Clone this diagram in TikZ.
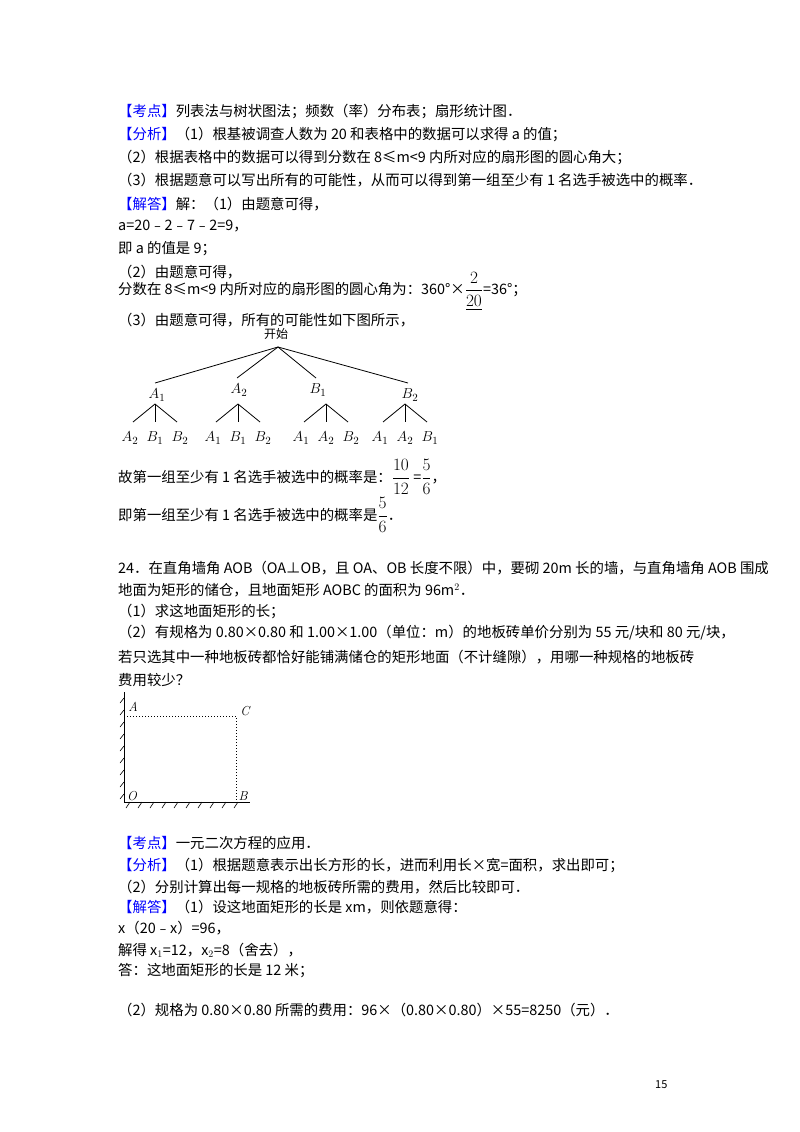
\documentclass[tikz,border=0pt]{standalone}
\usepackage{amsmath}
\usepackage{fontspec}
\setmainfont{Noto Sans CJK SC}
\newfontfamily\lm{Latin Modern Roman}
\begin{document}
\begin{tikzpicture}[x=1pt,y=-1pt,
 t/.style={anchor=west,inner sep=0pt,font=\fontsize{14.4}{15}\selectfont},
 lb/.style={inner sep=0pt,font=\lm\itshape\fontsize{15}{16}\selectfont},
 br/.style={inner sep=0pt,font=\lm\itshape\fontsize{13}{14}\selectfont},
 tr/.style={line width=0.8pt}]
\useasboundingbox (0,0) rectangle (800,1132);
\fill[white] (0,0) rectangle (800,1132);
\def\kd#1{\textcolor{blue}{【#1】}}
\def\bfr#1#2{{\fontsize{18}{20}\selectfont$\dfrac{#1}{#2}$}}
\node[t] (l1) at (118,111) {\kd{考点}列表法与树状图法；频数（率）分布表；扇形统计图．};
\node[t] (l2) at (118,134) {\kd{分析}（1）根基被调查人数为 20 和表格中的数据可以求得 a 的值；};
\node[t] (l3) at (118,157) {（2）根据表格中的数据可以得到分数在 8≤m<9 内所对应的扇形图的圆心角大；};
\node[t] (l4) at (118,180) {（3）根据题意可以写出所有的可能性，从而可以得到第一组至少有 1 名选手被选中的概率．};
\node[t] (l5) at (118,204) {\kd{解答}解：（1）由题意可得，};
\node[t] (l6) at (118,226) {a=20﹣2﹣7﹣2=9，};
\node[t] (l7) at (118,249) {即 a 的值是 9；};
\node[t] (l8) at (118,272) {（2）由题意可得，};
\node[t] (l9) at (118,291) {分数在 8≤m<9 内所对应的扇形图的圆心角为：360°×\bfr{2}{\underline{20}}=36°；};
\node[t] (l10) at (118,320) {（3）由题意可得，所有的可能性如下图所示，};
% tree
\node[inner sep=0pt,font=\fontsize{12}{13}\selectfont] (st) at (276,334) {开始};
\coordinate (r) at (278,347);
\foreach \n/\x/\y/\l/\s in {a/155/383/A/1,b/237/378/A/2,c/316/378/B/1,d/408/383/B/2}{
  \draw[tr] (r) -- (\x,\y);
  \node[lb] (\n) at (\x+2,\y+12) {$\l_{\s}$};
}
\def\fork#1#2#3#4#5{%
 \coordinate (#1t) at (#2,404);
 \draw[tr] (#1t) -- (#2-22,422); \draw[tr] (#1t) -- (#2,422); \draw[tr] (#1t) -- (#2+22,422);
 \node[lb] (#1x) at (#2-25,438) {$#3$};
 \node[lb] (#1y) at (#2,438) {$#4$};
 \node[lb] (#1z) at (#2+25,438) {$#5$};}
\fork{a}{155}{A_2}{B_1}{B_2}
\fork{b}{238}{A_1}{B_1}{B_2}
\fork{c}{326}{A_1}{A_2}{B_2}
\fork{d}{405}{A_1}{A_2}{B_1}
\node[t] (l11) at (118,477) {故第一组至少有 1 名选手被选中的概率是：\bfr{10}{12} =\bfr{5}{6}，};
\node[t] (l12) at (118,515) {即第一组至少有 1 名选手被选中的概率是\bfr{5}{6}．};
\node[t] (l13) at (118,568) {24．在直角墙角 AOB（OA⊥OB，且 OA、OB 长度不限）中，要砌 20m 长的墙，与直角墙角 AOB 围成};
\node[t] (l14) at (118,590) {地面为矩形的储仓，且地面矩形 AOBC 的面积为 96m$^2$．};
\node[t] (l15) at (118,611) {（1）求这地面矩形的长；};
\node[t] (l16) at (118,633) {（2）有规格为 0.80×0.80 和 1.00×1.00（单位：m）的地板砖单价分别为 55 元/块和 80 元/块，};
\node[t] (l17) at (118,657) {若只选其中一种地板砖都恰好能铺满储仓的矩形地面（不计缝隙），用哪一种规格的地板砖};
\node[t] (l18) at (118,680) {费用较少？};
% figure
\coordinate (O) at (124,802); \coordinate (Atop) at (124,692); \coordinate (Bend) at (250,802);
\draw[line width=1pt] (Atop) -- (O) -- (Bend);
\foreach \y in {698,710,...,796} \draw[line width=0.6pt] (124,\y) -- (120,\y+5);
\foreach \x in {130,142,...,248} \draw[line width=0.6pt] (\x,802) -- (\x-4,808);
\coordinate (Ap) at (124,716); \coordinate (Cp) at (236,716); \coordinate (Bp) at (236,802);
\draw[dotted,line width=1pt] (Ap) -- (Cp) -- (Bp);
\node[br] (A) at (133,707) {A}; \node[br] (C) at (245,711) {C};
\node[br] (Ol) at (132,796) {O}; \node[br] (B) at (243,796) {B};
\node[t] (m1) at (118,843) {\kd{考点}一元二次方程的应用．};
\node[t] (m2) at (118,865) {\kd{分析}（1）根据题意表示出长方形的长，进而利用长×宽=面积，求出即可；};
\node[t] (m3) at (118,887) {（2）分别计算出每一规格的地板砖所需的费用，然后比较即可．};
\node[t] (m4) at (118,907) {\kd{解答}（1）设这地面矩形的长是 xm，则依题意得：};
\node[t] (m5) at (118,928) {x（20﹣x）=96，};
\node[t] (m6) at (118,950) {解得 x$_1$=12，x$_2$=8（舍去），};
\node[t] (m7) at (118,971) {答：这地面矩形的长是 12 米；};
\node[t] (m8) at (118,1010) {（2）规格为 0.80×0.80 所需的费用：96×（0.80×0.80）×55=8250（元）．};
\node[t,font=\fontsize{11}{12}\selectfont] (pg) at (655,1085) {15};
\end{tikzpicture}
\end{document}
